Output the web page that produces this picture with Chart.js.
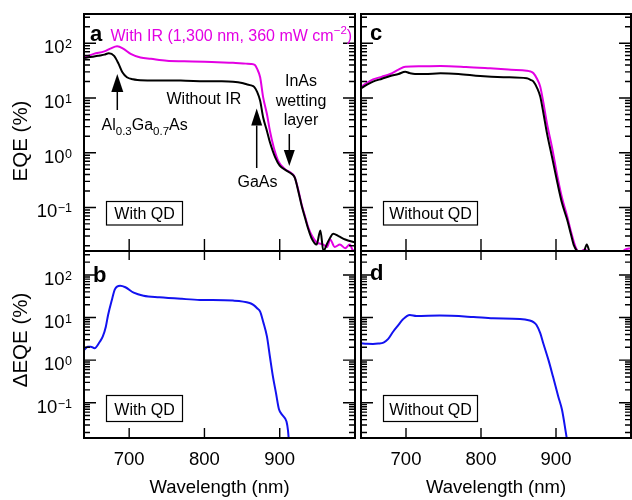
<!DOCTYPE html>
<html>
<head>
<meta charset="utf-8">
<script src="https://cdn.jsdelivr.net/npm/chart.js@4/dist/chart.umd.min.js"></script>
<style>
  html, body { margin: 0; padding: 0; background: #fff; }
  #wrap { position: relative; width: 632px; height: 500px; }
  #wrap canvas { position: absolute; left: 0; top: 0; }
</style>
</head>
<body>
<div id="wrap">
  <canvas id="pa" width="632" height="500"></canvas>
  <canvas id="pc" width="632" height="500"></canvas>
  <canvas id="pb" width="632" height="500"></canvas>
  <canvas id="pd" width="632" height="500"></canvas>
</div>
<script>
// tick values
const wlTicks = [700, 800, 900];
const eqeTicks = [0.1, 1, 10, 100];
const eqeTickExp = ['\u22121', '0', '1', '2'];

// panel a: with QD, EQE
const aNoIrWl = [640, 648, 655, 661, 667, 673, 680, 686, 691, 697, 705, 711, 730, 750, 775, 800, 820, 838, 850, 856, 862, 866, 870, 874, 878, 883, 887, 894, 900, 909, 916, 920, 925, 929, 934, 938, 942, 949, 954, 958, 963, 967, 971, 978, 987, 1000];
const aNoIrEqe = [54, 56, 58, 60, 62, 66, 59, 42, 29.5, 24, 22, 21.4, 21, 21, 20.7, 20.3, 20.2, 19.8, 18.8, 17.8, 17, 16, 13, 8.9, 4.4, 2.5, 1.55, 0.82, 0.58, 0.47, 0.41, 0.35, 0.19, 0.11, 0.062, 0.04, 0.028, 0.021, 0.038, 0.016, 0.022, 0.028, 0.033, 0.030, 0.026, 0.023];
const aIrWl = [640, 653, 667, 675, 684, 692, 702, 715, 729, 750, 773, 800, 817, 838, 855, 862, 867, 870, 874, 878, 883, 887, 892, 898, 907, 916, 920, 925, 929, 934, 938, 943, 949, 958, 963, 967, 973, 980, 987, 993, 998, 1000];
const aIrEqe = [55, 64, 71, 80, 88, 80, 64, 55, 52, 48, 47, 46, 45, 44, 42.5, 42, 40, 34, 23.9, 10.3, 5.1, 2.5, 1.26, 0.71, 0.50, 0.42, 0.355, 0.20, 0.115, 0.066, 0.043, 0.030, 0.023, 0.021, 0.019, 0.026, 0.019, 0.021, 0.018, 0.021, 0.016, 0.017];

// panel c: without QD, EQE
const cNoIrWl = [640, 648, 656, 668, 679, 690, 699, 705, 712, 725, 746, 770, 799, 830, 861, 866, 870, 875, 879, 883, 888, 895, 902, 908, 915, 920, 924, 930, 936, 941, 946, 955, 970, 985, 1000];
const cNoIrEqe = [15, 17.5, 19.9, 22.5, 25.2, 27.5, 30.2, 28.5, 27.5, 27.5, 28.3, 27.5, 25.2, 24, 22.9, 21.5, 19.9, 15, 10.6, 5.5, 2.26, 0.8, 0.276, 0.12, 0.059, 0.032, 0.02, 0.015, 0.014, 0.021, 0.014, 0.013, 0.014, 0.013, 0.014];
const cIrWl = [640, 648, 656, 668, 679, 690, 699, 720, 746, 780, 812, 840, 861, 866, 870, 875, 879, 883, 888, 895, 902, 908, 915, 920, 926, 931, 938, 945, 955, 965, 975, 985, 992, 1000];
const cIrEqe = [16, 19, 21.9, 24.5, 27.5, 33, 37.3, 38, 38.5, 37, 34.9, 33, 31.6, 30.5, 28.3, 22, 16.1, 8.5, 3.4, 1.2, 0.36, 0.15, 0.068, 0.036, 0.019, 0.015, 0.017, 0.015, 0.014, 0.016, 0.015, 0.014, 0.017, 0.018];

// panel b / d: delta EQE
const bWl = [640, 645, 649, 654, 661, 665, 669, 672, 677, 681, 688, 695, 706, 719, 740, 770, 794, 838, 860, 865, 870, 874, 878, 883, 887, 891, 895, 899, 904, 909, 911, 913];
const bDelta = [1.73, 2.05, 2.07, 1.9, 2.7, 3.6, 6.1, 11.5, 25.9, 46, 56, 51.5, 38.5, 32.7, 30, 27.5, 26, 25, 22, 19.8, 16.5, 13.8, 8, 3.6, 1.2, 0.41, 0.17, 0.07, 0.05, 0.036, 0.022, 0.008];
const dWl = [640, 648, 656, 663, 670, 676, 683, 690, 696, 705, 714, 745, 790, 816, 852, 865, 870, 874, 879, 883, 890, 896, 903, 908, 914, 917];
const dDelta = [2.49, 2.42, 2.4, 2.45, 2.58, 3.1, 4.7, 6.7, 9.1, 11.5, 10.9, 11.1, 10.3, 9.6, 9.3, 8.5, 7.8, 6.7, 4.3, 2.5, 1.0, 0.41, 0.14, 0.068, 0.016, 0.008];

const FONT = '"Liberation Sans", Arial, Helvetica, sans-serif';
const MAGENTA = '#e300e3';
const BLUE = '#1212f0';

const pts = (xs, ys) => xs.map((x, i) => ({ x, y: ys[i] }));

function text(ctx, s, x, y, size, opts = {}) {
  ctx.font = (opts.bold ? 'bold ' : '') + size + 'px ' + FONT;
  ctx.fillStyle = opts.color || '#000';
  ctx.textAlign = opts.align || 'left';
  ctx.textBaseline = 'alphabetic';
  ctx.fillText(s, x, y);
  return ctx.measureText(s).width;
}

// draws runs like [['Al',0],['0.3',1]] : 0 normal, 1 subscript, -1 superscript
function runs(ctx, parts, x, y, size, color) {
  let cx = x;
  for (const [s, k] of parts) {
    const sz = k === 0 ? size : size * 0.72;
    const dy = k === 0 ? 0 : (k > 0 ? size * 0.3 : -size * 0.4);
    cx += text(ctx, s, cx, y + dy, sz, { color });
  }
  return cx - x;
}

function arrow(ctx, x, y0, y1, headLen, headW) {
  const dir = Math.sign(y1 - y0);
  ctx.beginPath();
  ctx.moveTo(x, y0);
  ctx.lineTo(x, y1 - dir * headLen);
  ctx.lineWidth = 1.5;
  ctx.strokeStyle = '#000';
  ctx.stroke();
  ctx.beginPath();
  ctx.moveTo(x, y1);
  ctx.lineTo(x - headW / 2, y1 - dir * headLen);
  ctx.lineTo(x + headW / 2, y1 - dir * headLen);
  ctx.closePath();
  ctx.fillStyle = '#000';
  ctx.fill();
}

function boxLabel(ctx, s, x0, y0, x1, y1, base) {
  ctx.lineWidth = 1.2;
  ctx.strokeStyle = '#000';
  ctx.strokeRect(x0, y0, x1 - x0, y1 - y0);
  text(ctx, s, (x0 + x1) / 2, base, 16, { align: 'center' });
}

function framePlugin(p) {
  return {
    id: 'frame_' + p.id,
    afterDraw(chart) {
      const { ctx, chartArea: a } = chart;
      const x = chart.scales.x, y = chart.scales.y;
      ctx.save();
      ctx.strokeStyle = '#000';
      ctx.lineWidth = 1.4;
      ctx.beginPath();
      for (const w of wlTicks) {
        const px = x.getPixelForValue(w);
        ctx.moveTo(px, a.bottom); ctx.lineTo(px, a.bottom - p.tickBottom);
        if (p.tickTop) { ctx.moveTo(px, a.top); ctx.lineTo(px, a.top + p.tickTop); }
      }
      for (let e = -2; e <= 2; e++) {
        for (let m = 1; m <= 9; m++) {
          const v = m * Math.pow(10, e);
          if (v < p.yMin || v > p.yMax) continue;
          const py = y.getPixelForValue(v);
          const len = m === 1 ? 12 : 6;
          ctx.moveTo(a.left, py); ctx.lineTo(a.left + len, py);
          ctx.moveTo(a.right, py); ctx.lineTo(a.right - len, py);
        }
      }
      ctx.stroke();
      ctx.lineWidth = 2;
      ctx.strokeRect(a.left, a.top, a.right - a.left, a.bottom - a.top);

      if (p.yLabels) {
        eqeTicks.forEach((v, i) => {
          const py = y.getPixelForValue(v);
          ctx.font = '12.5px ' + FONT;
          const ew = ctx.measureText(eqeTickExp[i]).width;
          const ex = 72 - ew;
          text(ctx, eqeTickExp[i], ex, py + 5, 12.5);
          text(ctx, '10', ex - 0.5, py + 10, 18.5, { align: 'right' });
        });
        ctx.save();
        ctx.translate(26.5, p.yTitleY);
        ctx.rotate(-Math.PI / 2);
        text(ctx, p.yTitle, 0, 0, 20.5, { align: 'center' });
        ctx.restore();
      }
      if (p.xLabels) {
        for (const w of wlTicks) {
          text(ctx, String(w), x.getPixelForValue(w), 465, 18.5, { align: 'center' });
        }
        text(ctx, 'Wavelength (nm)', (a.left + a.right) / 2, 493, 18.5, { align: 'center' });
      }
      text(ctx, p.letter, p.letterX, p.letterY, 22, { bold: true });
      p.extra && p.extra(ctx);
      ctx.restore();
    }
  };
}

const panels = [
  {
    id: 'pa', area: [84, 14, 355, 251], yMin: 0.016, yMax: 343, tickTop: 0, tickBottom: 12,
    yLabels: true, yTitle: 'EQE (%)', yTitleY: 141, xLabels: false,
    letter: 'a', letterX: 90, letterY: 40.5,
    sets: [[aNoIrWl, aNoIrEqe, '#000'], [aIrWl, aIrEqe, MAGENTA]],
    extra(ctx) {
      runs(ctx, [['With IR (1,300 nm, 360 mW cm', 0], ['\u22122', -1], [')', 0]], 110.5, 40.5, 16, MAGENTA);
      text(ctx, 'Without IR', 166.5, 103.5, 16);
      runs(ctx, [['Al', 0], ['0.3', 1], ['Ga', 0], ['0.7', 1], ['As', 0]], 101.5, 130, 16, '#000');
      arrow(ctx, 117.3, 110, 74, 18, 12);
      text(ctx, 'GaAs', 237.5, 187, 16);
      arrow(ctx, 256.7, 168, 108.5, 17, 11);
      text(ctx, 'InAs', 301, 86, 16, { align: 'center' });
      text(ctx, 'wetting', 301, 105.5, 16, { align: 'center' });
      text(ctx, 'layer', 301, 125, 16, { align: 'center' });
      arrow(ctx, 289.3, 134, 166, 16, 11);
      boxLabel(ctx, 'With QD', 106.5, 201.5, 182.5, 225, 218.5);
    }
  },
  {
    id: 'pc', area: [361, 14, 631, 251], yMin: 0.016, yMax: 343, tickTop: 0, tickBottom: 12,
    yLabels: false, xLabels: false,
    letter: 'c', letterX: 370, letterY: 40,
    sets: [[cNoIrWl, cNoIrEqe, '#000'], [cIrWl, cIrEqe, MAGENTA]],
    extra(ctx) {
      boxLabel(ctx, 'Without QD', 383.5, 201.5, 477.5, 225, 218.5);
    }
  },
  {
    id: 'pb', area: [84, 251, 355, 438], yMin: 0.0148, yMax: 366, tickTop: 9, tickBottom: 10,
    yLabels: true, yTitle: '\u0394EQE (%)', yTitleY: 340, xLabels: true,
    letter: 'b', letterX: 93, letterY: 281.5,
    sets: [[bWl, bDelta, BLUE]],
    extra(ctx) {
      boxLabel(ctx, 'With QD', 106.5, 395.5, 182.5, 421.5, 415);
    }
  },
  {
    id: 'pd', area: [361, 251, 631, 438], yMin: 0.0148, yMax: 366, tickTop: 9, tickBottom: 10,
    yLabels: false, xLabels: true,
    letter: 'd', letterX: 370, letterY: 280,
    sets: [[dWl, dDelta, BLUE]],
    extra(ctx) {
      boxLabel(ctx, 'Without QD', 383.5, 395.5, 477.5, 421.5, 415);
    }
  }
];

for (const p of panels) {
  new Chart(document.getElementById(p.id), {
    type: 'line',
    data: {
      datasets: p.sets.map(([wl, v, color]) => ({
        data: pts(wl, v),
        borderColor: color,
        borderWidth: 2,
        pointRadius: 0,
        fill: false,
        cubicInterpolationMode: 'monotone',
        clip: 0
      }))
    },
    options: {
      responsive: false,
      animation: false,
      devicePixelRatio: 1,
      layout: { padding: { left: p.area[0], top: p.area[1], right: 632 - p.area[2], bottom: 500 - p.area[3] } },
      plugins: { legend: { display: false }, tooltip: { enabled: false } },
      scales: {
        x: { type: 'linear', min: 640, max: 1000, display: false },
        y: { type: 'logarithmic', min: p.yMin, max: p.yMax, display: false }
      }
    },
    plugins: [framePlugin(p)]
  });
}
</script>
</body>
</html>
